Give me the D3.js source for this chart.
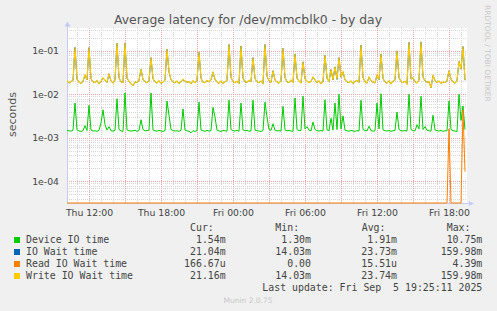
<!DOCTYPE html>
<html>
<head>
<meta charset="utf-8">
<script src="https://cdn.jsdelivr.net/npm/d3@7"></script>
<style>
  html, body { margin: 0; padding: 0; background: #f0f0f0; }
  svg { display: block; }
  text { font-family: "DejaVu Sans", sans-serif; fill: #444; }
  .mono { font-family: "DejaVu Sans Mono", monospace; white-space: pre; }
</style>
</head>
<body>
<div id="chart"></div>
<script>
// time range of the graph (one sample every 10 minutes)
const startTime = new Date(2025, 8, 4, 10, 10);
const endTime = new Date(2025, 8, 5, 19, 30);
const stepMinutes = 10;

// all values in milliseconds
const deviceIO = [
  1.48,1.45,1.42,1.50,6.3,1.52,1.44,1.40,1.46,1.9,1.47,5.6,1.50,1.43,1.45,1.41,1.48,2.2,4.4,2.0,
  1.50,1.8,1.46,1.42,1.47,7.9,1.55,1.44,1.40,10.75,1.52,1.46,1.43,1.45,1.48,1.41,1.47,2.6,1.55,1.44,
  1.46,1.50,10.7,1.52,1.45,1.42,1.47,1.44,1.40,1.46,7.0,3.3,1.55,1.47,1.43,1.45,1.41,1.48,4.6,1.50,
  1.44,1.42,1.30,1.46,1.40,1.47,6.6,1.52,1.45,1.41,1.48,1.43,1.46,5.0,3.0,1.50,1.44,1.40,1.47,1.45,
  1.42,7.3,1.55,1.46,1.43,1.48,1.41,6.3,1.52,1.45,1.47,1.42,1.44,7.3,1.50,1.46,1.43,1.40,1.47,6.6,
  3.0,1.55,1.48,2.1,1.50,1.44,1.46,1.42,5.3,1.52,1.45,1.47,1.43,1.41,8.2,1.55,1.46,1.48,9.0,1.60,
  1.8,1.50,1.44,2.3,1.55,1.46,1.43,1.47,1.42,7.5,1.52,1.46,2.8,1.50,6.3,1.55,10.0,1.60,3.2,1.50,
  1.45,1.42,1.47,1.44,1.40,1.46,1.43,7.3,1.55,1.47,1.44,1.85,1.46,1.42,1.45,6.3,1.60,10.3,1.52,1.46,
  1.43,1.47,1.41,1.45,1.48,3.9,1.55,1.46,1.43,1.47,1.42,10.0,1.55,1.46,1.44,2.0,1.60,9.0,1.55,1.8,
  1.50,1.45,1.42,3.3,1.52,1.46,1.43,1.47,1.41,1.45,1.44,7.0,1.55,1.46,1.43,1.38,10.0,2.5,5.4,1.54
];

const ioWait = [
  20.3,18.0,19.5,20.8,119,22.3,18.9,17.7,20.0,27.5,21.3,118,22.8,19.2,18.5,20.6,17.4,19.7,23.7,21.0,
  18.8,29.6,20.2,18.0,21.4,149,23.8,19.3,18.7,149,23.3,19.9,17.5,15.7,19.1,18.5,20.9,37.6,21.8,19.6,
  18.3,20.5,69.5,22.6,19.4,18.1,20.3,17.8,18.9,21.2,109,32.7,21.6,19.0,18.4,20.1,17.6,19.4,21.8,19.9,
  18.8,19.5,17.3,20.4,18.2,21.0,92.5,23.3,18.9,18.5,20.7,19.2,21.5,31.7,22.2,19.0,17.9,20.2,17.7,19.3,
  20.6,139,24.3,19.5,18.3,20.0,17.8,129,23.6,19.1,18.7,20.8,19.4,69.6,22.7,19.6,18.4,20.1,17.6,139,
  25.8,20.4,18.8,34.7,21.2,19.0,18.0,20.5,114,24.0,19.3,18.5,21.1,18.9,83.5,23.4,20.0,18.3,55.6,22.6,
  19.9,18.6,19.7,24.8,21.4,18.2,20.3,17.5,19.2,79.5,23.2,19.8,36.7,21.3,42.7,22.0,69.5,24.6,32.7,21.5,
  19.1,18.5,20.2,17.7,19.5,20.9,18.8,134,24.4,19.4,18.1,24.8,20.6,18.9,18.3,27.7,21.7,83.6,23.1,19.3,
  18.0,20.4,17.4,19.7,21.1,99.5,23.9,19.6,18.4,20.0,17.1,156,22.4,23.8,19.5,18.2,21.2,159.98,25.0,20.3,
  18.7,19.4,14.03,26.8,20.8,18.3,20.1,17.8,19.0,18.5,20.5,34.7,22.3,19.2,18.0,20.4,56.6,37.7,125,21.04
];

const readWait = [
  0,0,0,0,0,0,0,0,0,0,0,0,0,0,0,0,0,0,0,0,
  0,0,0,0,0,0,0,0,0,0,0,0,0,0,0,0,0,0,0,0,
  0,0,0,0,0,0,0,0,0,0,0,0,0,0,0,0,0,0,0,0,
  0,0,0,0,0,0,0,0,0,0,0,0,0,0,0,0,0,0,0,0,
  0,0,0,0,0,0,0,0,0,0,0,0,0,0,0,0,0,0,0,0,
  0,0,0,0,0,0,0,0,0,0,0,0,0,0,0,0,0,0,0,0,
  0,0,0,0,0,0,0,0,0,0,0,0,0,0,0,0,0,0,0,0,
  0,0,0,0,0,0,0,0,0,0,0,0,0,0,0,0,0,0,0,0,
  0,0,0,0,0,0,0,0,0,0,0,0,0,0,0,0,0,0,0,0,
  0,0,0,0,0,0,0,0,0,0,0,1.6,0,0,0,0,0,0,4.39,0.16667
];

const writeWait = [
  20.5,18.2,19.6,21.0,119,22.5,19.0,17.8,20.2,28,21.5,119,23.0,19.4,18.6,20.8,17.5,19.9,24,21.2,
  19.0,30,20.4,18.1,21.6,150,24.0,19.5,18.8,150,23.5,20.1,17.6,15.8,19.3,18.7,21.1,38,22.0,19.8,
  18.4,20.7,70,22.8,19.6,18.2,20.5,17.9,19.1,21.4,110,33,21.8,19.2,18.5,20.3,17.7,19.6,22,20.1,
  18.9,19.7,17.4,20.6,18.3,21.2,93,23.5,19.0,18.6,20.9,19.4,21.7,32,22.4,19.2,18.0,20.4,17.8,19.5,
  20.8,140,24.5,19.7,18.4,20.2,17.9,130,23.8,19.3,18.8,21.0,19.6,70,22.9,19.8,18.5,20.3,17.7,140,
  26,20.6,18.9,35,21.4,19.2,18.1,20.7,115,24.2,19.5,18.6,21.3,19.0,84,23.6,20.2,18.4,56,22.8,
  20.1,18.7,19.9,25,21.6,18.3,20.5,17.6,19.4,80,23.4,20.0,37,21.5,43,22.2,70,24.8,33,21.7,
  19.3,18.6,20.4,17.8,19.7,21.1,18.9,135,24.6,19.6,18.2,25,20.8,19.1,18.4,28,21.9,84,23.3,19.5,
  18.1,20.6,17.5,19.9,21.3,100,24.1,19.8,18.5,20.2,17.2,157,22.6,24,19.7,18.3,21.4,159.98,25.2,20.5,
  18.8,19.6,14.03,27,21.0,18.4,20.3,17.9,19.2,18.6,20.7,35,22.5,19.4,18.1,20.6,57,38,126,21.16
];

const seriesNames = ['Device IO time', 'IO Wait time', 'Read IO Wait time', 'Write IO Wait time'];
const seriesColors = ['#00cc00', '#0066b3', '#ff8000', '#ffcc00'];
const curValues = ['1.54m', '21.04m', '166.67u', '21.16m'];
const minValues = ['1.30m', '14.03m', '0.00', '14.03m'];
const avgValues = ['1.91m', '23.73m', '15.51u', '23.74m'];
const maxValues = ['10.75m', '159.98m', '4.39m', '159.98m'];

const yTickValues = [1e-1, 1e-2, 1e-3, 1e-4];
const yTickLabels = ['1e-01', '1e-02', '1e-03', '1e-04'];

const W = 497, H = 311;
const plot = { left: 67, right: 467, top: 28, bottom: 203 };
const yMin = 3.17e-5, yMax = 0.334;

const svg = d3.select('#chart').append('svg')
  .attr('width', W)
  .attr('height', H);

svg.append('rect').attr('width', W).attr('height', H).attr('fill', '#f0f0f0');
svg.append('rect')
  .attr('x', plot.left).attr('y', plot.top)
  .attr('width', plot.right - plot.left).attr('height', plot.bottom - plot.top)
  .attr('fill', '#fff');

const x = d3.scaleTime().domain([startTime, endTime]).range([plot.left, plot.right]);
const y = d3.scaleLog().domain([yMin, yMax]).range([plot.bottom, plot.top]);

const timeAt = i => new Date(startTime.getTime() + i * stepMinutes * 60000);
const crisp = v => Math.round(v) + 0.5;

// grid
const grid = svg.append('g');
const isMajorHour = d => d.getHours() % 3 === 0;
const minorColor = '#d6d6d6';
const majorColor = '#f0a4a4';

// minor vertical, every hour
grid.selectAll('.vminor')
  .data(x.ticks(d3.timeHour.every(1)).filter(d => !isMajorHour(d)))
  .enter().append('line')
  .attr('x1', d => crisp(x(d))).attr('x2', d => crisp(x(d)))
  .attr('y1', plot.top).attr('y2', plot.bottom)
  .attr('stroke', minorColor).attr('stroke-dasharray', '1,1');

// minor horizontal, 2..9 of each decade
grid.selectAll('.hminor')
  .data(y.ticks().filter(d => Math.abs(Math.log10(d) - Math.round(Math.log10(d))) > 1e-6))
  .enter().append('line')
  .attr('x1', plot.left).attr('x2', plot.right)
  .attr('y1', d => crisp(y(d))).attr('y2', d => crisp(y(d)))
  .attr('stroke', minorColor).attr('stroke-dasharray', '1,1');

// major vertical, every 3 hours
grid.selectAll('.vmajor')
  .data(x.ticks(d3.timeHour.every(3)))
  .enter().append('line')
  .attr('x1', d => crisp(x(d))).attr('x2', d => crisp(x(d)))
  .attr('y1', plot.top).attr('y2', plot.bottom)
  .attr('stroke', majorColor).attr('stroke-dasharray', '1,1');

// major horizontal, decades
grid.selectAll('.hmajor')
  .data(yTickValues)
  .enter().append('line')
  .attr('x1', plot.left).attr('x2', plot.right)
  .attr('y1', d => crisp(y(d))).attr('y2', d => crisp(y(d)))
  .attr('stroke', majorColor).attr('stroke-dasharray', '1,1');

// axis lines with arrows
const axisColor = '#c4ccf4';
svg.append('line')
  .attr('x1', plot.left + 0.5).attr('x2', plot.left + 0.5)
  .attr('y1', plot.bottom).attr('y2', 25)
  .attr('stroke', axisColor);
svg.append('path')
  .attr('d', `M${plot.left - 2.5},26.5L${plot.left + 0.5},21.5L${plot.left + 3.5},26.5Z`)
  .attr('fill', axisColor);
svg.append('line')
  .attr('x1', plot.left).attr('x2', 470)
  .attr('y1', plot.bottom + 0.5).attr('y2', plot.bottom + 0.5)
  .attr('stroke', axisColor);
svg.append('path')
  .attr('d', `M469,${plot.bottom - 2}L474,${plot.bottom + 0.5}L469,${plot.bottom + 3}Z`)
  .attr('fill', axisColor);

// data lines
svg.append('clipPath').attr('id', 'plotclip')
  .append('rect')
  .attr('x', plot.left).attr('y', plot.top - 1)
  .attr('width', plot.right - plot.left + 1).attr('height', plot.bottom - plot.top + 2);

const line = d3.line()
  .x((d, i) => x(timeAt(i)))
  .y(d => y(Math.max(d / 1000, yMin)));

const series = [deviceIO, ioWait, readWait, writeWait];
const lines = svg.append('g').attr('clip-path', 'url(#plotclip)');
series.forEach((s, k) => {
  lines.append('path')
    .datum(s)
    .attr('d', line)
    .attr('fill', 'none')
    .attr('stroke', seriesColors[k])
    .attr('stroke-width', k === 3 ? 1.15 : 1);
});

// y axis labels
const yaxis = d3.axisLeft(y)
  .tickValues(yTickValues)
  .tickFormat((d, i) => yTickLabels[i])
  .tickSize(0)
  .tickPadding(8);

const yAxisG = svg.append('g')
  .attr('transform', `translate(${plot.left},0)`)
  .call(yaxis);
yAxisG.select('.domain').remove();
yAxisG.selectAll('text')
  .attr('font-family', '"DejaVu Sans", sans-serif')
  .attr('font-size', '9.3px')
  .attr('fill', '#444');

// x axis labels, every 6 hours
const xaxis = d3.axisBottom(x)
  .ticks(d3.timeHour.every(6))
  .tickFormat(d3.timeFormat('%a %H:%M'))
  .tickSize(0)
  .tickPadding(6);

const xAxisG = svg.append('g')
  .attr('transform', `translate(0,${plot.bottom})`)
  .call(xaxis);
xAxisG.select('.domain').remove();
xAxisG.selectAll('text')
  .attr('font-family', '"DejaVu Sans", sans-serif')
  .attr('font-size', '9.3px')
  .attr('fill', '#444');

// title and side texts
svg.append('text')
  .attr('x', 248).attr('y', 24)
  .attr('text-anchor', 'middle')
  .attr('font-size', '12.4px')
  .style('fill', '#555')
  .text('Average latency for /dev/mmcblk0 - by day');

svg.append('text')
  .attr('transform', 'translate(15.5,114.5) rotate(-90)')
  .attr('text-anchor', 'middle')
  .attr('font-size', '11px')
  .style('fill', '#555')
  .text('seconds');

svg.append('text')
  .attr('transform', 'translate(485,5) rotate(90)')
  .attr('font-size', '7.5px')
  .style('fill', '#c8c8c8')
  .text('RRDTOOL / TOBI OETIKER');

// legend
const legend = svg.append('g').attr('class', 'mono').attr('font-size', '9.9px');
const headerY = 231.3;
const rowY = i => 243.3 + i * 12;
const headers = [['Cur:', 190], ['Min:', 275.3], ['Avg:', 361.7], ['Max:', 446.7]];
headers.forEach(h => {
  legend.append('text').attr('class', 'mono').attr('x', h[1]).attr('y', headerY).text(h[0]);
});

const colRight = [225.7, 311, 397, 482.3];
const cols = [curValues, minValues, avgValues, maxValues];
seriesNames.forEach((name, i) => {
  legend.append('rect')
    .attr('x', 14).attr('y', Math.round(rowY(i) - 6.8))
    .attr('width', 6).attr('height', 6)
    .attr('fill', seriesColors[i]);
  legend.append('text').attr('class', 'mono')
    .attr('x', 26).attr('y', rowY(i)).text(name);
  cols.forEach((c, j) => {
    legend.append('text').attr('class', 'mono')
      .attr('x', colRight[j]).attr('y', rowY(i))
      .attr('text-anchor', 'end')
      .text(c[i]);
  });
});

legend.append('text').attr('class', 'mono')
  .attr('x', 482.3).attr('y', 290.8)
  .attr('text-anchor', 'end')
  .text('Last update: Fri Sep  5 19:25:11 2025');

svg.append('text')
  .attr('x', 248).attr('y', 303)
  .attr('text-anchor', 'middle')
  .attr('font-size', '7.5px')
  .style('fill', '#c8c8c8')
  .text('Munin 2.0.75');
</script>
</body>
</html>
